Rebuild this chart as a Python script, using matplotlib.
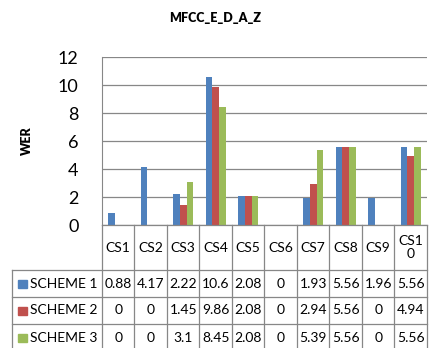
import matplotlib.pyplot as plt
import numpy as np
from matplotlib.lines import Line2D

categories = ["CS1", "CS2", "CS3", "CS4", "CS5", "CS6", "CS7", "CS8", "CS9", "CS10"]
header_labels = ["CS1", "CS2", "CS3", "CS4", "CS5", "CS6", "CS7", "CS8", "CS9", "CS1\n0"]
series_names = ["SCHEME 1", "SCHEME 2", "SCHEME 3"]
scheme1 = [0.88, 4.17, 2.22, 10.6, 2.08, 0, 1.93, 5.56, 1.96, 5.56]
scheme2 = [0, 0, 1.45, 9.86, 2.08, 0, 2.94, 5.56, 0, 4.94]
scheme3 = [0, 0, 3.1, 8.45, 2.08, 0, 5.39, 5.56, 0, 5.56]
colors = ["#4F81BD", "#C0504D", "#9BBB59"]

plt.rcParams["font.family"] = ["Lato", "DejaVu Sans"]

W, H = 431, 348
fig = plt.figure(figsize=(W / 100, H / 100), dpi=100)


def fx(x):
    return x / W


def fy(y):
    return 1 - y / H


left, right, top, bottom = 102, 427, 57, 225
ax = fig.add_axes([fx(left), fy(bottom), fx(right - left), fy(top) - fy(bottom)])

x = np.arange(len(categories))
bw = 0.21
for i, (vals, c) in enumerate(zip([scheme1, scheme2, scheme3], colors)):
    ax.bar(x + (i - 1) * bw, vals, width=bw, color=c, zorder=3)

ax.set_xlim(-0.5, len(categories) - 0.5)
ax.set_ylim(0, 12)
ax.set_yticks(range(0, 13, 2))
ax.tick_params(axis="y", length=0, labelsize=13, pad=17)
ax.set_xticks([])
ax.grid(axis="y", color="#878787", linewidth=0.9, zorder=0)
for s in ["top", "right", "bottom"]:
    ax.spines[s].set_visible(False)
ax.spines["left"].set_color("#878787")
ax.set_ylabel("WER", fontsize=9, fontweight="heavy", labelpad=18)

fig.text(fx(215), fy(18), "MFCC_E_D_A_Z", ha="center", va="center",
         fontsize=9, fontweight="heavy")

# data table under the plot
line_kw = dict(color="#878787", linewidth=0.9)
row_lines = [bottom, 270, 297, 324, 351]
table_left = 12
colw = (right - left) / len(categories)
for j in range(len(categories) + 1):
    xc = left + j * colw
    fig.add_artist(Line2D([fx(xc), fx(xc)], [fy(bottom), fy(row_lines[-1])], **line_kw))
fig.add_artist(Line2D([fx(left), fx(right)], [fy(bottom), fy(bottom)], **line_kw))
for yl in row_lines[1:]:
    fig.add_artist(Line2D([fx(table_left), fx(right)], [fy(yl), fy(yl)], **line_kw))
fig.add_artist(Line2D([fx(table_left), fx(table_left)], [fy(row_lines[1]), fy(row_lines[-1])], **line_kw))

for j, lab in enumerate(header_labels):
    fig.text(fx(left + (j + 0.5) * colw), fy((row_lines[0] + row_lines[1]) / 2), lab,
             ha="center", va="center", fontsize=10, linespacing=1.15)

for r, (name, vals, c) in enumerate(zip(series_names, [scheme1, scheme2, scheme3], colors)):
    yc = (row_lines[r + 1] + row_lines[r + 2]) / 2
    fig.add_artist(plt.Rectangle((fx(18), fy(yc + 4)), fx(9), fy(yc - 4) - fy(yc + 4),
                                 color=c, transform=fig.transFigure))
    fig.text(fx(30), fy(yc), name, ha="left", va="center", fontsize=10)
    for j, v in enumerate(vals):
        fig.text(fx(left + (j + 0.5) * colw), fy(yc), f"{v:g}",
                 ha="center", va="center", fontsize=10)

fig.savefig("out.png", dpi=100)
